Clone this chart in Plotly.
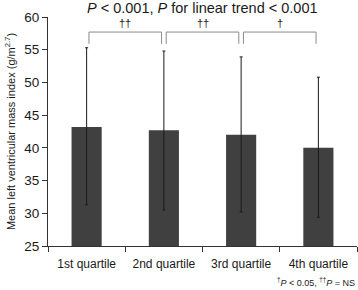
import plotly.graph_objects as go

categories = ["1st quartile", "2nd quartile", "3rd quartile", "4th quartile"]
means = [43.2, 42.7, 42.0, 40.0]
err_plus = [12.1, 12.1, 11.9, 10.8]
err_minus = [11.9, 12.2, 11.8, 10.6]

# comparisons between adjacent quartiles: (from index, to index, label)
comparisons = [(0, 1, "††"), (1, 2, "††"), (2, 3, "†")]
bracket_top = 57.7
bracket_bottom = 55.9
label_y = 59.1

fig = go.Figure()
fig.add_trace(go.Bar(
    x=categories, y=means,
    marker=dict(color="#404040", line=dict(width=0)),
    width=0.39,
    error_y=dict(type="data", symmetric=False, array=err_plus, arrayminus=err_minus,
                 color="#1a1a1a", thickness=1, width=1.5),
))

font = "Liberation Sans, Arial, sans-serif"
shapes = []
annotations = []
for a, b, lab in comparisons:
    x0 = a + 0.03
    x1 = b - 0.03
    line = dict(color="#8a8a8a", width=1)
    shapes.append(dict(type="line", xref="x", yref="y", x0=x0, x1=x1, y0=bracket_top, y1=bracket_top, line=line))
    shapes.append(dict(type="line", xref="x", yref="y", x0=x0, x1=x0, y0=bracket_top, y1=bracket_bottom, line=line))
    shapes.append(dict(type="line", xref="x", yref="y", x0=x1, x1=x1, y0=bracket_top, y1=bracket_bottom, line=line))
    annotations.append(dict(x=(a + b) / 2, y=label_y, xref="x", yref="y", text=lab, showarrow=False,
                            font=dict(size=11, color="#222222", family=font), yanchor="middle"))

annotations.append(dict(x=0.5, y=1.0, xref="paper", yref="paper", yshift=9,
                        text="<i>P</i> < 0.001, <i>P</i> for linear trend < 0.001",
                        showarrow=False, font=dict(size=14.5, color="#1a1a1a", family=font),
                        xanchor="center", yanchor="middle"))
annotations.append(dict(x=1.0, y=0, xref="paper", yref="paper", yshift=-36,
                        text="<sup>†</sup><i>P</i> < 0.05, <sup>††</sup><i>P</i> = NS",
                        showarrow=False, font=dict(size=9, color="#1a1a1a", family=font),
                        xanchor="right", yanchor="middle"))

fig.update_layout(
    width=358, height=290,
    margin=dict(l=48, r=1, t=17, b=44),
    paper_bgcolor="white", plot_bgcolor="white",
    showlegend=False,
    shapes=shapes, annotations=annotations,
    font=dict(family=font, color="#1a1a1a"),
    xaxis=dict(
        automargin=False,
        showline=True, linecolor="#333", linewidth=1,
        ticks="outside", tickson="boundaries", ticklen=5, tickcolor="#333",
        tickfont=dict(size=12, color="#1a1a1a"),
        ticklabelstandoff=7,
        showgrid=False,
    ),
    yaxis=dict(
        automargin=False,
        range=[25, 60], dtick=5, showline=True, linecolor="#333", linewidth=1,
        ticks="outside", ticklen=5, tickcolor="#333",
        tickfont=dict(size=13.5, color="#1a1a1a"),
        showgrid=False, zeroline=False,
        title=dict(text="Mean left ventricular mass index (g/m<sup>2.7</sup>)",
                   font=dict(size=11, color="#1a1a1a"), standoff=6),
    ),
)

fig.write_html("out.html", post_script="document.body.style.margin='0';",
               config={"displayModeBar": False})
